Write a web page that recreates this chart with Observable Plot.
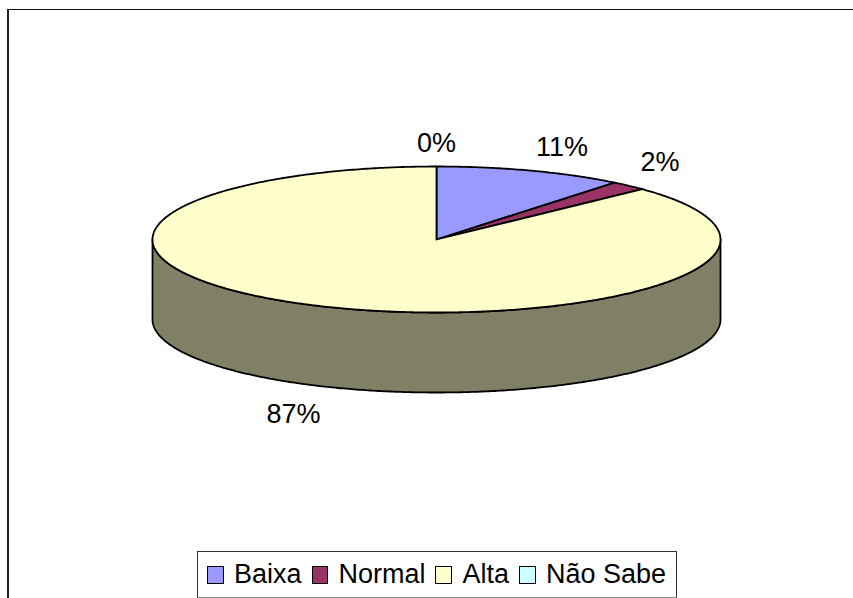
<!DOCTYPE html>
<html><head><meta charset="utf-8">
<script src="https://cdn.jsdelivr.net/npm/d3@7"></script>
<script src="https://cdn.jsdelivr.net/npm/@observablehq/plot@0.6"></script>
<style>
html,body{margin:0;padding:0;background:#fff;overflow:hidden}
#wrap{position:relative;width:853px;height:598px;font-family:"Liberation Sans",Arial,sans-serif}
#frame{position:absolute;left:7px;top:9px;width:846px;height:589px;box-sizing:border-box;border-top:1.5px solid #111;border-left:2px solid #222}
#legend{position:absolute;left:197px;top:551px;width:480px;height:47px;box-sizing:border-box;border:1px solid #333;border-bottom:1px solid #888;background:#fff;display:flex;align-items:center;font-size:27px;color:#000;white-space:nowrap;padding-left:9px}
#legend span.s{display:inline-block;width:18px;height:18px;box-sizing:border-box;border:1.5px solid #000;margin-right:10px}
#legend span.t{margin-right:10px}
svg{position:absolute;left:0;top:0;background:transparent!important}
</style></head><body><div id="wrap"><div id="frame"></div></div>
<script>
const categories = ["Baixa", "Normal", "Alta", "Não Sabe"];
const values = [10.8, 2.1, 87.1, 0];
const colors = ["#9999FF", "#993366", "#FFFFCC", "#CCFFFF"];
const sideColor = "#808066";
const depth = 1.096; // pie thickness, in units of the vertical radius

const total = d3.sum(values);
const tau = 2 * Math.PI;
const cum = d3.cumsum(values).map(v => v / total * tau);
const slices = categories.map((name, i) => ({
  name, value: values[i], color: colors[i],
  a0: i ? cum[i - 1] : 0, a1: cum[i]
}));
const X = a => Math.sin(a), Y = a => Math.cos(a);
const arc = (a0, a1) => {
  const n = Math.max(2, Math.ceil((a1 - a0) / 0.01));
  return d3.range(n + 1).map(k => a0 + (a1 - a0) * k / n);
};
const topFace = slices.filter(s => s.value > 0).flatMap(s => {
  const pts = [[0, 0], ...arc(s.a0, s.a1).map(a => [X(a), Y(a)]), [0, 0]];
  return pts.map(([x, y]) => ({x, y, name: s.name, color: s.color}));
});
// Front wall: the part of the outline that faces the viewer
const front = arc(tau / 4, 3 * tau / 4);
const side = [
  ...front.map(a => ({x: X(a), y: Y(a)})),
  ...front.slice().reverse().map(a => ({x: X(a), y: Y(a) - depth})),
  {x: X(front[0]), y: Y(front[0])}
];
const labels = slices.map(s => {
  const m = (s.a0 + s.a1) / 2, isFront = Y(m) < 0;
  return {
    x: X(m), y: Y(m) - (isFront ? depth : 0),
    dx: s.value === 0 ? 0 : Math.sign(X(m)) * 31,
    dy: isFront ? 28 : -23,
    text: Math.round(s.value) + "%"
  };
});

const plot = Plot.plot({
  width: 853, height: 598,
  marginTop: 0, marginRight: 0, marginBottom: 0, marginLeft: 0,
  x: {domain: [-1, 1], range: [152, 720], axis: null},
  y: {domain: [-1, 1], range: [312, 166], axis: null},
  marks: [
    Plot.line(side, {x: "x", y: "y", fill: sideColor, stroke: "#000", strokeWidth: 1.8, curve: "linear"}),
    Plot.line(topFace, {x: "x", y: "y", z: "name", fill: d => d.color, stroke: "#000", strokeWidth: 1.8, curve: "linear"}),
    ...labels.map(l => Plot.text([l], {
      x: "x", y: "y", text: "text", dx: l.dx, dy: l.dy,
      fontSize: 27, fontFamily: "Liberation Sans, Arial, sans-serif", fill: "#000"
    }))
  ]
});
const wrap = document.getElementById("wrap");
wrap.appendChild(plot);

const legend = document.createElement("div");
legend.id = "legend";
slices.forEach(s => {
  const sw = document.createElement("span");
  sw.className = "s"; sw.style.background = s.color;
  const t = document.createElement("span");
  t.className = "t"; t.textContent = s.name;
  legend.append(sw, t);
});
wrap.appendChild(legend);
</script></body></html>
